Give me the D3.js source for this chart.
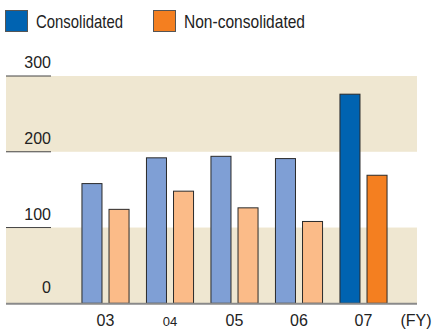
<!DOCTYPE html>
<html><head><meta charset="utf-8">
<script src="https://cdn.jsdelivr.net/npm/d3@7"></script>
<style>body{margin:0;background:#fff}svg{display:block}text{font-family:"Liberation Sans",Arial,Helvetica,sans-serif;fill:#222}</style>
</head><body><svg id="c" width="435" height="329"></svg>
<script>
const years = ["03","04","05","06","07"];
const series = ["Consolidated","Non-consolidated"];
const consolidated = [158, 192, 194, 191, 276];
const nonConsolidated = [124, 148, 126, 108, 169];
const yTicks = [0, 100, 200, 300];

const svg = d3.select("#c");
const x = d3.scaleBand().domain(years).range([73.25, 395.75]).paddingInner(0.27).paddingOuter(0.135);
const xs = d3.scaleBand().domain(series).range([0, x.bandwidth()]).paddingInner(0.26);
const y = d3.scaleLinear().domain([0, 300]).range([303.3, 76]);
const left = 6, right = 417;

// bands
[[0,100],[200,300]].forEach(([a,b]) => {
  svg.append("rect").attr("x", left).attr("width", right-left)
    .attr("y", y(b)).attr("height", y(a)-y(b)).attr("fill", "#efe7d1");
});

// tick lines and labels
yTicks.forEach(t => {
  if (t > 0) svg.append("line").attr("x1", left).attr("x2", 51).attr("y1", y(t)).attr("y2", y(t))
    .attr("stroke", "#444").attr("stroke-width", 1);
  svg.append("text").attr("x", 51).attr("y", y(t) - (t === 0 ? 10 : 8)).attr("text-anchor", "end")
    .attr("font-size", 16).text(t);
});

const colors = {
  "03": ["#7f9fd5", "#fbbb88"], "04": ["#7f9fd5", "#fbbb88"], "05": ["#7f9fd5", "#fbbb88"],
  "06": ["#7f9fd5", "#fbbb88"], "07": ["#0063b1", "#f47f20"]
};
const data = years.map((yr, i) => ({yr, vals: [consolidated[i], nonConsolidated[i]]}));
const g = svg.selectAll("g.grp").data(data).join("g").attr("transform", d => `translate(${x(d.yr)},0)`);
g.selectAll("rect").data(d => d.vals.map((v, j) => ({v, s: series[j], c: colors[d.yr][j]}))).join("rect")
  .attr("x", d => xs(d.s)).attr("width", xs.bandwidth())
  .attr("y", d => y(d.v)).attr("height", d => y(0) - y(d.v))
  .attr("fill", d => d.c).attr("stroke", "#2a2a2a").attr("stroke-width", 1);

// baseline
svg.append("line").attr("x1", left).attr("x2", right).attr("y1", y(0)+0.5).attr("y2", y(0)+0.5)
  .attr("stroke", "#8a8a8a").attr("stroke-width", 2);

// x labels
years.forEach(yr => {
  svg.append("text").attr("x", x(yr) + x.bandwidth()/2).attr("y", 326).attr("text-anchor", "middle")
    .attr("font-size", yr === "04" ? 13 : 16).text(yr);
});
svg.append("text").attr("x", 416).attr("y", 326).attr("text-anchor", "middle").attr("font-size", 16).text("(FY)");

// legend
const leg = [{label: series[0], c: "#0063b1", x: 5, tx: 36, w: 87}, {label: series[1], c: "#f47f20", x: 153, tx: 184, w: 121}];
leg.forEach(l => {
  svg.append("rect").attr("x", l.x + 0.5).attr("y", 10.5).attr("width", 22).attr("height", 21)
    .attr("fill", l.c).attr("stroke", "#555").attr("stroke-width", 1);
  svg.append("text").attr("x", l.tx).attr("y", 27.5).attr("font-size", 19)
    .attr("textLength", l.w).attr("lengthAdjust", "spacingAndGlyphs").text(l.label);
});
</script></body></html>
